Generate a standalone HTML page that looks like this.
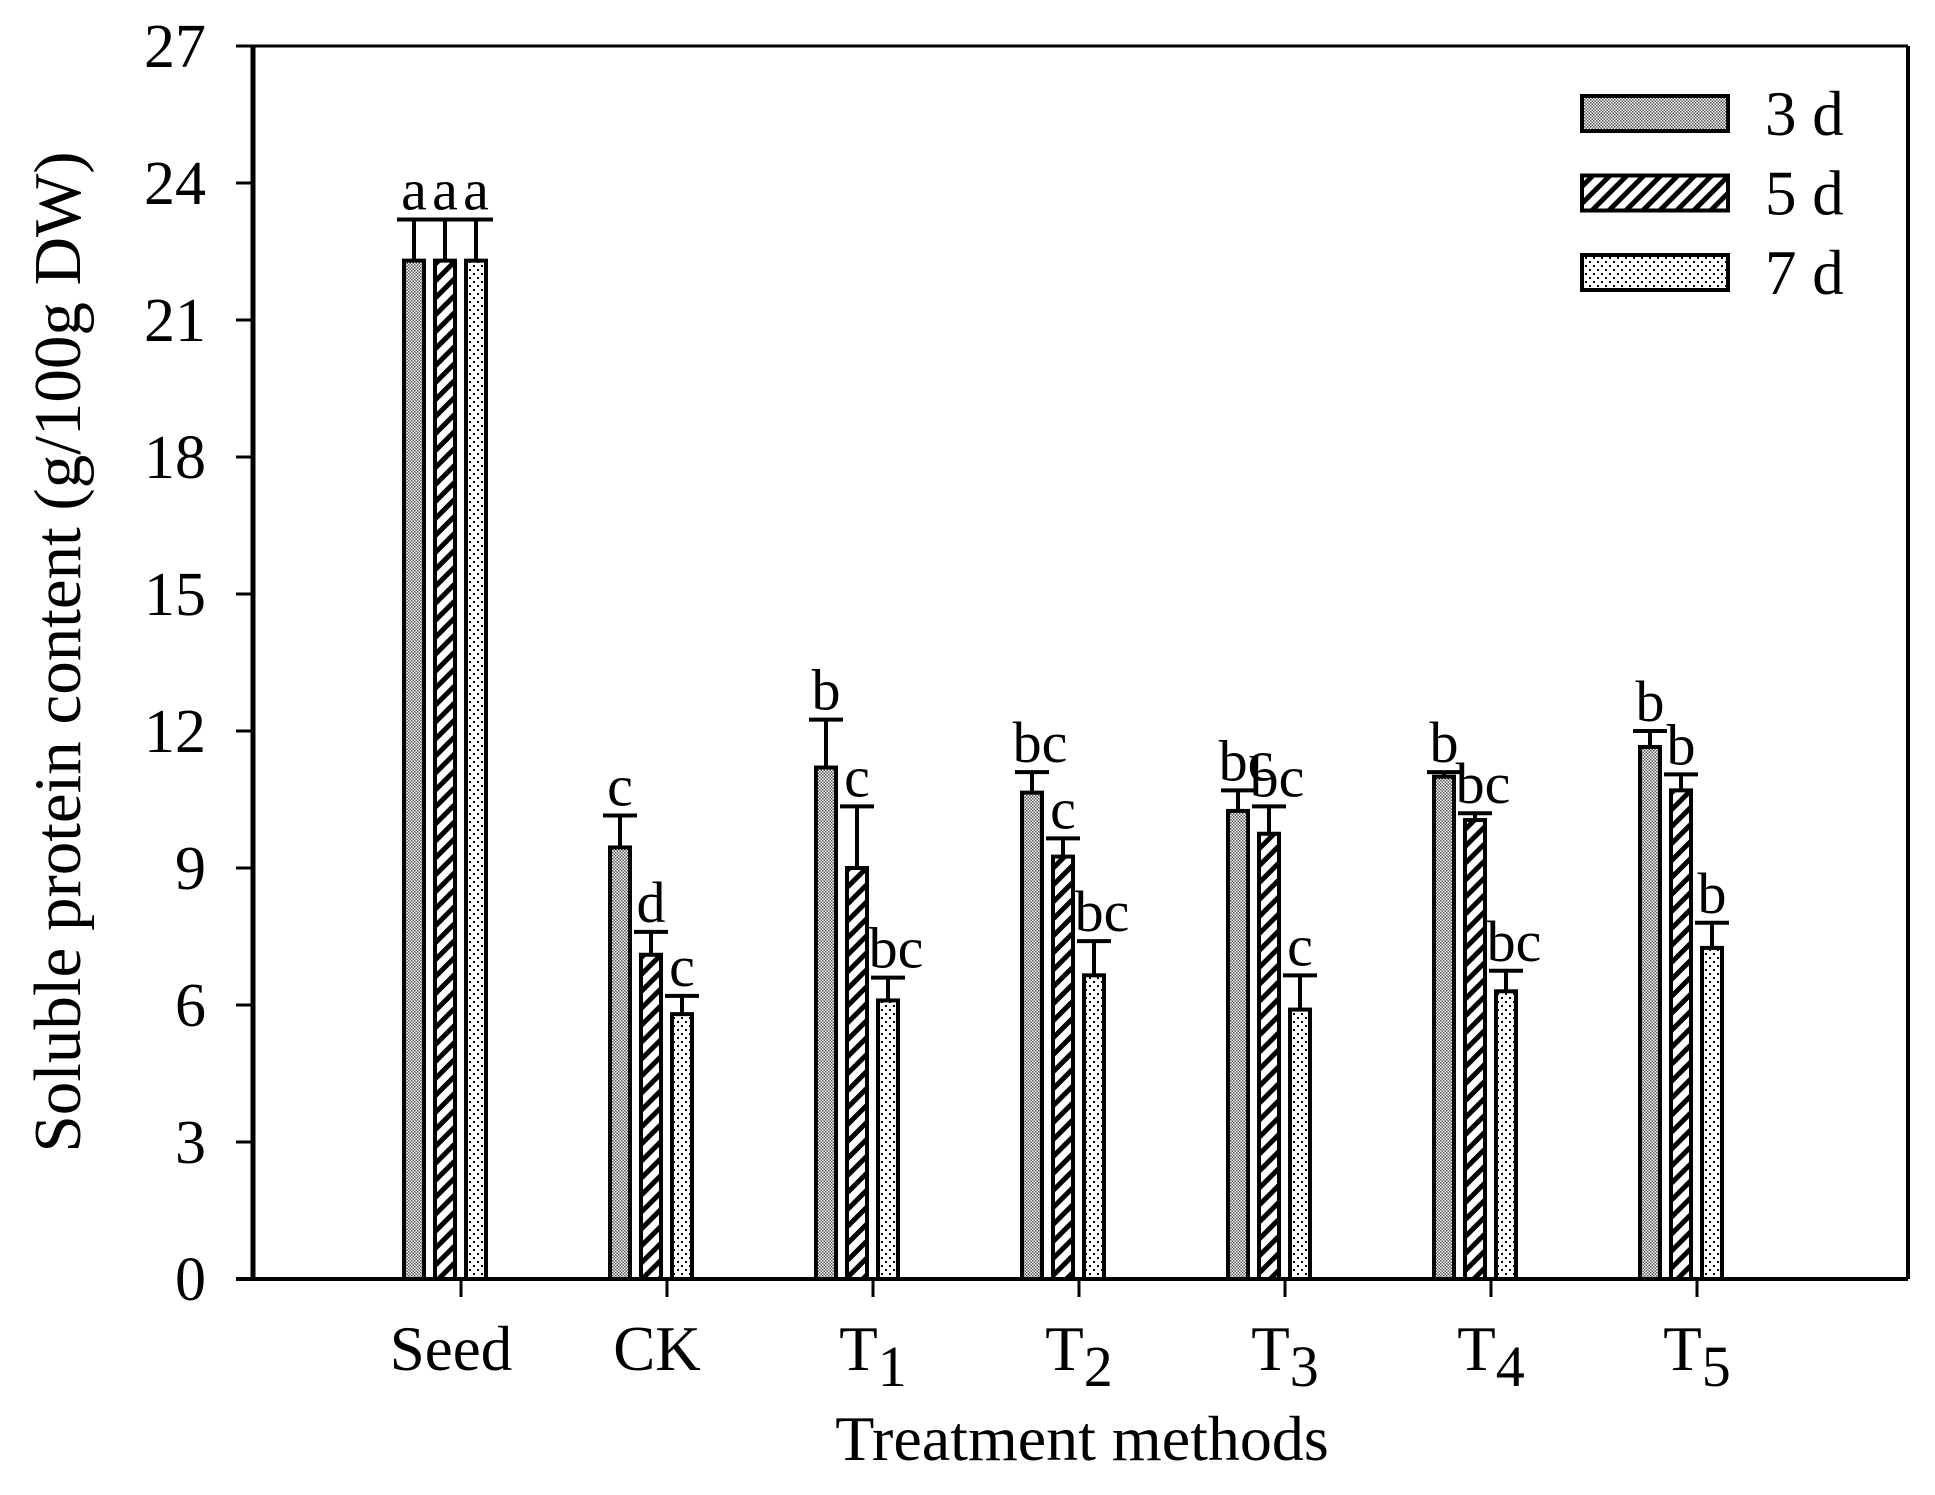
<!DOCTYPE html>
<html><head><meta charset="utf-8"><style>
body{margin:0;background:#fff}
svg text{font-family:"Liberation Serif",serif;fill:#000}
</style></head><body>
<svg id="chart" width="1935" height="1490" viewBox="0 0 1935 1490" xmlns="http://www.w3.org/2000/svg">
<defs>
<pattern id="p3" patternUnits="userSpaceOnUse" width="3" height="3"><rect width="3" height="3" fill="#fff"/><rect width="1.5" height="1.5" fill="#555"/><rect x="1.5" y="1.5" width="1.5" height="1.5" fill="#555"/></pattern>
<pattern id="p5" patternUnits="userSpaceOnUse" width="12" height="12" patternTransform="rotate(45)"><rect width="12" height="12" fill="#fff"/><rect width="5" height="12" fill="#000"/></pattern>
<pattern id="p7" patternUnits="userSpaceOnUse" width="8" height="8"><rect width="8" height="8" fill="#fff"/><rect x="1" y="1" width="2" height="2" fill="#000"/><rect x="5" y="5" width="2" height="2" fill="#000"/></pattern>
</defs>
<g id="marks"></g>
</svg>
<script>
const categories=["Seed","CK","T1","T2","T3","T4","T5"];
const series=["3 d","5 d","7 d"];
const v3=[22.3,9.45,11.2,10.65,10.25,11.0,11.65];
const v5=[22.3,7.1,9.0,9.25,9.75,10.05,10.7];
const v7=[22.3,5.8,6.1,6.65,5.9,6.3,7.25];
const e3=[0.9,0.7,1.05,0.45,0.45,0.1,0.35];
const e5=[0.9,0.5,1.35,0.4,0.6,0.15,0.35];
const e7=[0.9,0.4,0.5,0.75,0.75,0.45,0.55];
const l3=["a","c","b","bc","bc","b","b"];
const l5=["a","d","c","c","bc","bc","b"];
const l7=["a","c","bc","bc","c","bc","b"];
const yTicks=[0,3,6,9,12,15,18,21,24,27];

const NS="http://www.w3.org/2000/svg";
const svg=document.getElementById('chart');
const g=document.getElementById('marks');
const X0=253,X1=1908,Y0=1279,YT=46;
const y=v=>Y0-(v/27)*(Y0-YT);
const xTick=i=>461+i*206;
function mk(tag,attrs,parent){const e=document.createElementNS(NS,tag);for(const k in attrs)e.setAttribute(k,attrs[k]);(parent||g).appendChild(e);return e;}

let ax=mk('line',{x1:X0,y1:YT,x2:X0,y2:Y0,stroke:'#000','stroke-width':5});


let ax2=mk('line',{x1:236,y1:Y0,x2:X1,y2:Y0,stroke:'#000','stroke-width':4});


let tb=mk('line',{x1:X0,y1:YT,x2:X1,y2:YT,stroke:'#000','stroke-width':3});


let rb=mk('line',{x1:X1,y1:YT,x2:X1,y2:Y0,stroke:'#000','stroke-width':4});



yTicks.forEach(t=>{
  const tl=mk('line',{x1:236,y1:y(t),x2:X0,y2:y(t),stroke:'#000','stroke-width':3});
  
  
  const tx=mk('text',{x:206,y:y(t)+21,'text-anchor':'end','font-size':62});
  tx.textContent=t;
  
  
});

const vals=[v3,v5,v7],errs=[e3,e5,e7],lets=[l3,l5,l7],pats=['url(#p3)','url(#p5)','url(#p7)'];
categories.forEach((c,i)=>{
  const tk=mk('line',{x1:xTick(i),y1:Y0,x2:xTick(i),y2:Y0+18,stroke:'#000','stroke-width':3});
  
  
  const lb=mk('text',{x:xTick(i)-(c.length===2&&c[0]==='T'?0:10),y:1370,'text-anchor':'middle','font-size':63});
  if(c.length===2&&c[0]==='T'){
    lb.textContent='T';
    const s=mk('tspan',{dy:16,'font-size':58},lb);s.textContent=c[1];
  } else lb.textContent=c;
  
  
  for(let s=0;s<3;s++){
    const bx=xTick(i)-57+s*31, v=vals[s][i], top=y(v);
    const r=mk('rect',{x:bx,y:top,width:20,height:Y0-top,fill:pats[s],stroke:'#000','stroke-width':4});
    
    
    const et=y(v+errs[s][i]), cx=bx+10;
    const el=mk('path',{d:`M${cx},${top} V${et} M${cx-17},${et} H${cx+17}`,stroke:'#000','stroke-width':4,fill:'none'});
    
    
    const lt=mk('text',{x:cx+(lets[s][i].length>1?8:0),y:et-10,'text-anchor':'middle','font-size':58});
    lt.textContent=lets[s][i];
    
    
  }
});

series.forEach((s,k)=>{
  const ly=96+k*79.5;
  const r=mk('rect',{x:1582,y:ly,width:146,height:35,fill:pats[k],stroke:'#000','stroke-width':4});
  
  
  const t=mk('text',{x:1765,y:ly+39,'font-size':63});
  t.textContent=s;
  
  
});

const xt=mk('text',{x:1082,y:1460,'text-anchor':'middle','font-size':64});
xt.textContent='Treatment methods';


const yt=mk('text',{x:0,y:0,'text-anchor':'middle','font-size':67,transform:'translate(80,652) rotate(-90)'});
yt.textContent='Soluble protein content (g/100g DW)';


</script>
</body></html>
